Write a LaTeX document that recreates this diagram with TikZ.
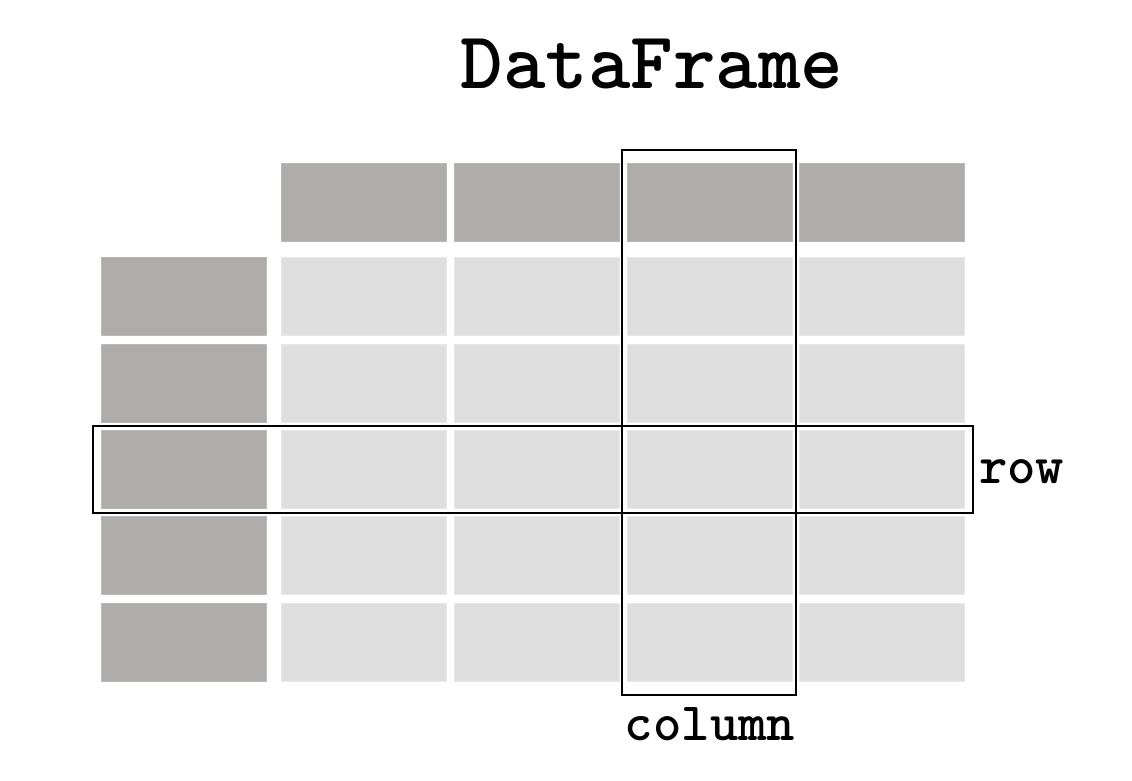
\documentclass[tikz,border=0pt]{standalone}
\usepackage{fontspec}
\usepackage{tikz}
\usetikzlibrary{positioning}
\definecolor{hdrcolor}{RGB}{174,173,172}
\definecolor{cellcolor}{RGB}{222,222,222}
\tikzset{
  hdrcell/.style={fill=hdrcolor, draw=hdrcolor!85!white, line width=0.6pt,
    minimum width=165pt, minimum height=78pt, inner sep=0pt, anchor=north west},
  datacell/.style={hdrcell, fill=cellcolor, draw=cellcolor!70!white},
  selbox/.style={draw=black, line width=1.6pt},
  lbl/.style={font=\ttfamily\bfseries, anchor=base, inner sep=0pt},
}
\begin{document}
\begin{tikzpicture}[x=1pt, y=-1pt]
    \useasboundingbox (0,0) rectangle (1132,780);
    % column headers
    \foreach \c/\x in {1/281, 2/454, 3/627, 4/799}
      \node[hdrcell] (h\c) at (\x,163) {};
    % index and values
    \foreach \r/\y in {1/257, 2/344, 3/430, 4/516, 5/603} {
      \node[hdrcell] (i\r) at (101,\y) {};
      \foreach \c/\x in {1/281, 2/454, 3/627, 4/799}
        \node[datacell] (d\r\c) at (\x,\y) {};
    }
    % one column and one row picked out
    \draw[selbox] (622,150) rectangle (796,695);
    \draw[selbox] (93,426) rectangle (973,513);
    \node[lbl, font=\ttfamily\bfseries\fontsize{81}{81}\selectfont] (title) at (652,88) {DataFrame};
    \node[lbl, font=\ttfamily\bfseries\fontsize{54}{54}\selectfont, anchor=base west] (rowlbl) at (979,483) {row};
    \node[lbl, font=\ttfamily\bfseries\fontsize{54}{54}\selectfont] (collbl) at (710,740) {column};
\end{tikzpicture}
\end{document}
